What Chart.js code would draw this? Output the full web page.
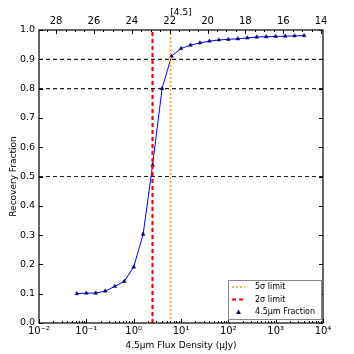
<!DOCTYPE html>
<html>
<head>
<meta charset="utf-8">
<script src="https://cdn.jsdelivr.net/npm/chart.js@4/dist/chart.umd.min.js"></script>
<style>
  html, body { margin: 0; padding: 0; background: #fff; }
  #wrap { width: 354px; height: 354px; }
</style>
</head>
<body>
<div id="wrap"><canvas id="recoveryChart" width="354" height="354"></canvas></div>
<script>
// flux bins (uJy) and measured recovery fraction
const fluxes = [0.063, 0.1, 0.158, 0.251, 0.398, 0.631, 1.0, 1.585, 2.512, 3.981, 6.31,
    10, 15.85, 25.12, 39.81, 63.1, 100, 158.5, 251.2, 398.1, 631, 1000, 1585, 2512, 3981];
const fractions = [0.100, 0.102, 0.102, 0.109, 0.125, 0.142, 0.191, 0.303, 0.539, 0.800, 0.911,
    0.937, 0.948, 0.956, 0.962, 0.966, 0.968, 0.970, 0.973, 0.976, 0.977, 0.978, 0.979, 0.980, 0.981];

// limits (uJy)
const limit5sigma = 6.0;
const limit2sigma = 2.5;

// horizontal reference levels
const refLevels = [0.9, 0.8, 0.5];

// axis ranges / ticks
const fluxMin = 0.01, fluxMax = 1e4;
const yTicks = [0, 0.1, 0.2, 0.3, 0.4, 0.5, 0.6, 0.7, 0.8, 0.9, 1.0];
const magTicks = [14, 16, 18, 20, 22, 24, 26, 28];
const zeroPoint = 23.9; // AB mag of 1 uJy

const fontFam = "'DejaVu Sans', sans-serif";

// log ticks 1..9 x 10^n
const logTicks = [];
for (let e = -2; e <= 4; e++) {
    for (let s = 1; s <= 9; s++) {
        const v = s * Math.pow(10, e);
        if (v <= fluxMax * 1.0001) logTicks.push(v);
    }
}
const sup = { "-": "\u207B", "0": "\u2070", "1": "\u00B9", "2": "\u00B2", "3": "\u00B3", "4": "\u2074" };
function powLabel(v) {
    const e = Math.round(Math.log10(v));
    if (Math.abs(Math.log10(v) - e) > 1e-6) return "";
    return "10" + String(e).split("").map(c => sup[c]).join("");
}

const datasets = [];
refLevels.forEach(lv => {
    datasets.push({
        label: "ref" + lv,
        data: [{ x: fluxMin, y: lv }, { x: fluxMax, y: lv }],
        borderColor: "#222",
        borderWidth: 1.2,
        borderDash: [4, 3],
        pointRadius: 0,
        showLine: true,
    });
});
datasets.push({
    label: "5\u03C3 limit",
    data: [{ x: limit5sigma, y: 0 }, { x: limit5sigma, y: 1 }],
    borderColor: "#ffa030",
    borderWidth: 1.6,
    borderDash: [2, 2],
    pointRadius: 0,
    showLine: true,
    legendType: "line",
});
datasets.push({
    label: "2\u03C3 limit",
    data: [{ x: limit2sigma, y: 0 }, { x: limit2sigma, y: 1 }],
    borderColor: "#ff0000",
    borderWidth: 2.2,
    borderDash: [4, 3],
    pointRadius: 0,
    showLine: true,
    legendType: "line",
});
datasets.push({
    label: "4.5\u03BCm Fraction",
    data: fluxes.map((f, i) => ({ x: f, y: fractions[i] })),
    borderColor: "#0000ff",
    borderWidth: 1,
    pointStyle: "triangle",
    pointRadius: 2.2,
    pointBackgroundColor: "#000066",
    pointBorderColor: "#000066",
    pointBorderWidth: 0.5,
    showLine: true,
    legendType: "marker",
});

// frame, inward ticks and legend box
const framePlugin = {
    id: "frame",
    afterDatasetsDraw(chart) {
        const { ctx, chartArea: a, scales } = chart;
        ctx.save();
        ctx.strokeStyle = "#000";
        ctx.lineWidth = 1;
        // y ticks both sides
        scales.y.ticks.forEach(t => {
            const py = Math.round(scales.y.getPixelForValue(t.value)) + 0.5;
            ctx.beginPath();
            ctx.moveTo(a.left, py); ctx.lineTo(a.left + 4, py);
            ctx.moveTo(a.right, py); ctx.lineTo(a.right - 4, py);
            ctx.stroke();
        });
        // bottom log ticks
        logTicks.forEach(v => {
            const px = Math.round(scales.x.getPixelForValue(v)) + 0.5;
            const len = powLabel(v) ? 4 : 2;
            ctx.beginPath();
            ctx.moveTo(px, a.bottom); ctx.lineTo(px, a.bottom - len);
            ctx.stroke();
        });
        // top magnitude ticks
        for (let m = 14; m <= 28.5; m += 0.5) {
            const px = Math.round(scales.x2.getPixelForValue(m)) + 0.5;
            const len = (m % 2 === 0) ? 4 : 2;
            ctx.beginPath();
            ctx.moveTo(px, a.top); ctx.lineTo(px, a.top + len);
            ctx.stroke();
        }
        ctx.lineWidth = 1.2;
        ctx.strokeRect(a.left, a.top, a.right - a.left, a.bottom - a.top);

        // legend
        const lx = 228, ly = 280, lw = 93, lh = 39;
        ctx.fillStyle = "#fff";
        ctx.fillRect(lx, ly, lw, lh);
        ctx.strokeStyle = "#888";
        ctx.lineWidth = 1;
        ctx.strokeRect(lx + 0.5, ly + 0.5, lw, lh);
        ctx.font = "8px " + fontFam;
        ctx.textBaseline = "middle";
        let row = 0;
        chart.data.datasets.forEach(ds => {
            if (!ds.legendType) return;
            const yy = ly + 7 + row * 12.5;
            if (ds.legendType === "line") {
                ctx.strokeStyle = ds.borderColor;
                ctx.lineWidth = ds.borderWidth;
                ctx.setLineDash(ds.borderDash);
                ctx.beginPath();
                ctx.moveTo(lx + 4, yy); ctx.lineTo(lx + 17, yy);
                ctx.stroke();
                ctx.setLineDash([]);
            } else {
                ctx.fillStyle = ds.pointBackgroundColor;
                ctx.beginPath();
                ctx.moveTo(lx + 10.5, yy - 2.5);
                ctx.lineTo(lx + 13, yy + 2);
                ctx.lineTo(lx + 8, yy + 2);
                ctx.closePath();
                ctx.fill();
            }
            ctx.fillStyle = "#000";
            ctx.fillText(ds.label, lx + 27, yy);
            row++;
        });
        ctx.restore();
    },
};

const chartCtx = document.getElementById("recoveryChart").getContext("2d");
const recoveryChart = new Chart(chartCtx, {
    type: "scatter",
    data: { datasets: datasets },
    options: {
        responsive: false,
        animation: false,
        layout: { padding: { left: 0, right: 31, top: 0, bottom: 0 } },
        plugins: { legend: { display: false }, tooltip: { enabled: false } },
        elements: { line: { tension: 0 } },
        scales: {
            x: {
                type: "logarithmic",
                position: "bottom",
                min: fluxMin,
                max: fluxMax,
                afterBuildTicks: s => { s.ticks = logTicks.map(v => ({ value: v })); },
                afterFit: s => { s.height = 31; },
                grid: { display: false, drawTicks: false },
                border: { display: false },
                ticks: {
                    autoSkip: false, maxRotation: 0, padding: 2,
                    color: "#000", font: { family: fontFam, size: 10 },
                    callback: v => powLabel(v),
                },
                title: {
                    display: true, text: "4.5\u03BCm Flux Density (\u03BCJy)",
                    color: "#000", font: { family: fontFam, size: 9 }, padding: { top: 0, bottom: 3 },
                },
            },
            x2: {
                type: "linear",
                position: "top",
                reverse: true,
                min: zeroPoint - 2.5 * Math.log10(fluxMax),
                max: zeroPoint - 2.5 * Math.log10(fluxMin),
                afterBuildTicks: s => { s.ticks = magTicks.map(v => ({ value: v })); },
                afterFit: s => { s.height = 30; },
                grid: { display: false, drawTicks: false },
                border: { display: false },
                ticks: {
                    autoSkip: false, maxRotation: 0, padding: 3,
                    color: "#000", font: { family: fontFam, size: 10 },
                    callback: v => String(v),
                },
                title: {
                    display: true, text: "[4.5]",
                    color: "#000", font: { family: fontFam, size: 9 }, padding: { top: 7, bottom: 0 },
                },
            },
            y: {
                type: "linear",
                min: 0,
                max: 1,
                afterBuildTicks: s => { s.ticks = yTicks.map(v => ({ value: v })); },
                afterFit: s => { s.width = 39; },
                grid: { display: false, drawTicks: false },
                border: { display: false },
                ticks: {
                    padding: 4, color: "#000", font: { family: fontFam, size: 9.5 },
                    callback: v => v.toFixed(1),
                },
                title: {
                    display: true, text: "Recovery Fraction",
                    color: "#000", font: { family: fontFam, size: 9 }, padding: { top: 8, bottom: 0 },
                },
            },
        },
    },
    plugins: [framePlugin],
});
</script>
</body>
</html>
